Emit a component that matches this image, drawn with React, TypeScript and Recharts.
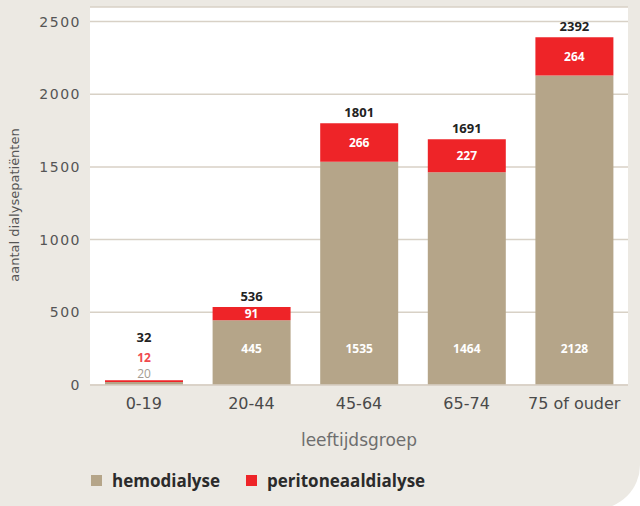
import React from "react";
import {
  BarChart,
  Bar,
  XAxis,
  YAxis,
  CartesianGrid,
  Legend,
  LabelList,
} from "recharts";

const categories = ["0-19", "20-44", "45-64", "65-74", "75 of ouder"];
const hemodialyse = [20, 445, 1535, 1464, 2128];
const peritoneaal = [12, 91, 266, 227, 264];
const totals = [32, 536, 1801, 1691, 2392];
const yTicks = [0, 500, 1000, 1500, 2000, 2500];

const TAN = "#b5a589";
const RED = "#ee2428";
const BG = "#ece9e3";
const GRID = "#d8d1c6";
const FONT = "'DejaVu Sans', sans-serif";
const BOLD = "'Open Sans', sans-serif";

const data = categories.map((group, i) => ({
  group,
  hemo: hemodialyse[i],
  peri: peritoneaal[i],
  total: totals[i],
}));

// segment too thin to hold a label -> labels stacked above the bar
const THIN = 8;

const HemoLabel = (props: any) => {
  const { x, y, width, height, value } = props;
  const base = y + height;
  const thin = height < THIN;
  return (
    <text
      x={x + width / 2}
      y={thin ? base - 12 : base - 37}
      textAnchor="middle"
      dominantBaseline="central"
      fill={thin ? "#a39c91" : "#fff"}
      fontFamily={BOLD}
      fontWeight={thin ? 400 : 700}
      fontSize={12}
    >
      {value}
    </text>
  );
};

const PeriLabel = (props: any) => {
  const { x, y, width, height, value } = props;
  const thin = height < THIN;
  return (
    <text
      x={x + width / 2}
      y={thin ? y - 23 : y + height / 2}
      textAnchor="middle"
      dominantBaseline="central"
      fill={thin ? "#f04a4e" : "#fff"}
      fontFamily={BOLD}
      fontWeight={700}
      fontSize={12}
    >
      {value}
    </text>
  );
};

const TotalLabel = (props: any) => {
  const { x, y, width, height, value } = props;
  const thin = height < THIN;
  return (
    <text
      x={x + width / 2}
      y={thin ? y - 43 : y - 11}
      textAnchor="middle"
      dominantBaseline="central"
      fill="#222"
      fontFamily={BOLD}
      fontWeight={700}
      fontSize={13}
    >
      {value}
    </text>
  );
};

const legendItems = [
  { label: "hemodialyse", color: TAN },
  { label: "peritoneaaldialyse", color: RED },
];

const renderLegend = () => (
  <div style={{ display: "flex", alignItems: "center", height: 24, paddingLeft: 91 }}>
    {legendItems.map((it) => (
      <div key={it.label} style={{ display: "flex", alignItems: "center", marginRight: 26 }}>
        <span style={{ width: 11, height: 11, background: it.color, marginRight: 10 }} />
        <span style={{ fontFamily: BOLD, fontWeight: 700, fontSize: 17, color: "#2b2b2b" }}>
          {it.label}
        </span>
      </div>
    ))}
  </div>
);

export default function App() {
  return (
    <div
      style={{
        position: "absolute",
        left: 0,
        top: 0,
        width: 640,
        height: 509,
        background: BG,
        borderBottomRightRadius: 44,
        overflow: "hidden",
      }}
    >
      <BarChart
        width={640}
        height={506}
        data={data}
        margin={{ top: 7, right: 12, left: 0, bottom: 14 }}
        barSize={78}
      >
        <CartesianGrid
          vertical={false}
          fill="#fff"
          stroke={GRID}
          strokeWidth={1.5}
        />
        <XAxis
          dataKey="group"
          height={83}
          tickLine={false}
          tickSize={0}
          tickMargin={13}
          axisLine={{ stroke: GRID, strokeWidth: 1.5 }}
          tick={{ fontSize: 16, fill: "#4a4a4a", fontFamily: FONT }}
          label={({ viewBox }: any) => (
            <text
              x={viewBox.x + viewBox.width / 2}
              y={viewBox.y + 55}
              textAnchor="middle"
              dominantBaseline="central"
              fill="#6e6e6e"
              fontFamily={FONT}
              fontSize={17}
            >
              leeftijdsgroep
            </text>
          )}
        />
        <YAxis
          width={90}
          domain={[0, 2600]}
          ticks={yTicks}
          tickLine={false}
          axisLine={false}
          tickSize={0}
          tickMargin={9}
          tick={{ fontSize: 14, fill: "#555", fontFamily: FONT, letterSpacing: 1.5 }}
          label={({ viewBox }: any) => {
            const cx = 14;
            const cy = viewBox.y + viewBox.height / 2 + 9;
            return (
              <text
                x={cx}
                y={cy}
                transform={`rotate(-90, ${cx}, ${cy})`}
                textAnchor="middle"
                dominantBaseline="central"
                fill="#555"
                fontFamily={FONT}
                fontSize={13}
              >
                aantal dialysepatiënten
              </text>
            );
          }}
        />
        <Legend
          verticalAlign="bottom"
          align="left"
          content={renderLegend}
        />
        <Bar dataKey="hemo" name="hemodialyse" stackId="a" fill={TAN} isAnimationActive={false}>
          <LabelList dataKey="hemo" content={HemoLabel} />
        </Bar>
        <Bar dataKey="peri" name="peritoneaaldialyse" stackId="a" fill={RED} isAnimationActive={false}>
          <LabelList dataKey="peri" content={PeriLabel} />
          <LabelList dataKey="total" content={TotalLabel} />
        </Bar>
      </BarChart>
    </div>
  );
}
